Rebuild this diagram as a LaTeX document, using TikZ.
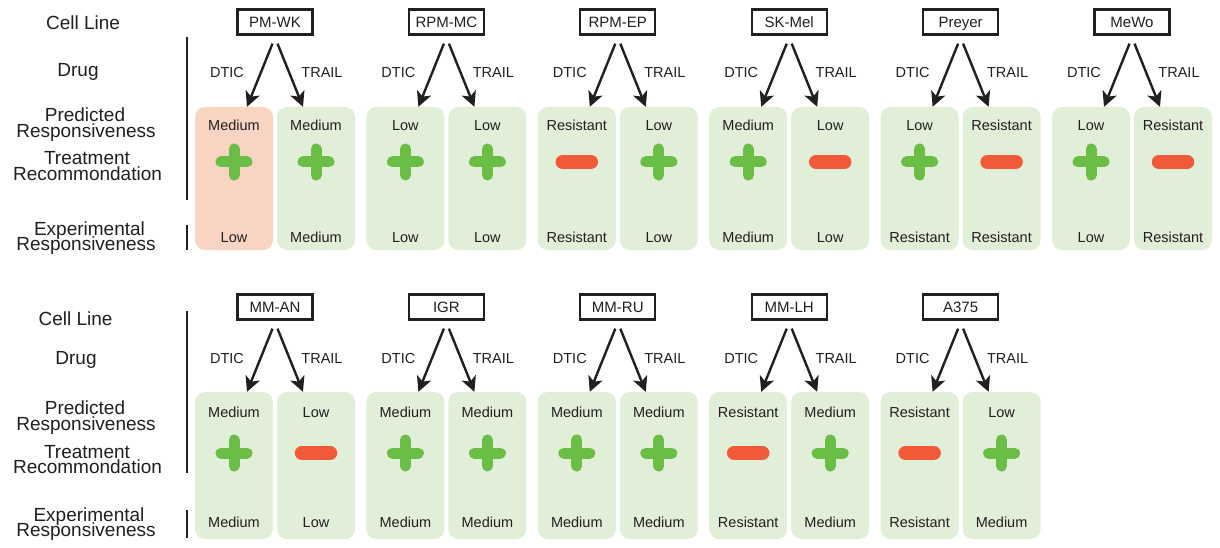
\documentclass[tikz,border=0pt]{standalone}
\usepackage{fontspec}
\setmainfont{Liberation Sans}
\usetikzlibrary{arrows.meta,calc}
\definecolor{pgreen}{HTML}{E1EED8}
\definecolor{ppink}{HTML}{F9D4C2}
\definecolor{sgreen}{HTML}{6ABD45}
\definecolor{sred}{HTML}{F15A38}
\definecolor{ink}{HTML}{231F20}
\tikzset{
  panel/.style={rounded corners=10pt, minimum width=78pt, inner sep=0pt, draw=none},
  ptext/.style={font=\fontsize{14.5}{16}\selectfont, text=ink, inner sep=0pt, text height=10.4pt, text depth=0pt},
  cellbox/.style={draw=ink, line width=2.3pt, minimum width=75pt, minimum height=25pt, inner sep=0pt,
    font=\fontsize{15}{16}\selectfont, text=ink, text height=10.8pt, text depth=0pt},
  rowlabel/.style={font=\fontsize{19}{16}\selectfont, text=ink, inner sep=0pt, text height=13.6pt, text depth=0pt},
  arr/.style={draw=ink, line width=2.4pt, -{Stealth[length=15pt,width=15pt,inset=4pt]}},
  plussign/.style={draw=sgreen, line width=11pt, line cap=round},
  minussign/.style={draw=sred, line width=14.5pt, line cap=round},
  sidebar/.style={draw=ink, line width=2.5pt},
}
\newcommand\signplus[2]{\draw[plussign] (#1-13,#2) -- (#1+13,#2) (#1,#2-13) -- (#1,#2+13);}
\newcommand\signminus[2]{\draw[minussign] (#1-14,#2) -- (#1+14,#2);}
\newcommand\panelnode[6]{%
  \node[panel, fill=#3, minimum height=\ph] (#1) at (#2+39,\pc) {};
  \node[ptext] (#1-pt) at (#2+39,\ty) {#4};
  \node[ptext] (#1-et) at (#2+39,\by) {#6};
  \csname sign#5\endcsname{#2+39}{\sy}}
\newcommand\cellgroup[3]{%
  \node[cellbox] (#1) at (#2+80,\byc) {#3};
  \node[ptext] (#1-dl) at (#2+32,\dy) {DTIC};
  \node[ptext] (#1-tl) at (#2+127,\dy) {TRAIL};}
\newcommand\grouparrows[1]{%
  \draw[arr] ($(#1.south)+(-2.5,8)$) -- ($(#1-d.north)+(13,0)$);
  \draw[arr] ($(#1.south)+(2.5,8)$) -- ($(#1-t.north)+(-13,0)$);}
\begin{document}
\begin{tikzpicture}[x=1pt,y=-1pt]
\path[use as bounding box] (0,0) rectangle (1220,548);
\fill[white] (0,0) rectangle (1220,548);

% ---------- top row labels ----------
\node[rowlabel] (l1a) at (83,23) {Cell Line};
\node[rowlabel] (l1b) at (78,70) {Drug};
\node[rowlabel] (l1c1) at (85,115) {Predicted};
\node[rowlabel] (l1c2) at (86,131) {Responsiveness};
\node[rowlabel] (l1d1) at (87,158) {Treatment};
\node[rowlabel] (l1d2) at (87.5,174) {Recommondation};
\node[rowlabel] (l1e1) at (89.5,229) {Experimental};
\node[rowlabel] (l1e2) at (86,244) {Responsiveness};
\draw[sidebar] (187,37) -- (187,200);
\draw[sidebar] (187,225) -- (187,250);

% ---------- top row groups ----------
\def\byc{22}\def\dy{72}\def\pc{178.5}\def\ph{143}\def\ty{125}\def\sy{162}\def\by{237}

\cellgroup{pmwk}{195}{PM-WK}
\panelnode{pmwk-d}{195}{ppink}{Medium}{plus}{Low}
\panelnode{pmwk-t}{195+82}{pgreen}{Medium}{plus}{Medium}
\grouparrows{pmwk}

\cellgroup{rpmmc}{366.4}{RPM-MC}
\panelnode{rpmmc-d}{366.4}{pgreen}{Low}{plus}{Low}
\panelnode{rpmmc-t}{366.4+82}{pgreen}{Low}{plus}{Low}
\grouparrows{rpmmc}

\cellgroup{rpmep}{537.8}{RPM-EP}
\panelnode{rpmep-d}{537.8}{pgreen}{Resistant}{minus}{Resistant}
\panelnode{rpmep-t}{537.8+82}{pgreen}{Low}{plus}{Low}
\grouparrows{rpmep}

\cellgroup{skmel}{709.2}{SK-Mel}
\panelnode{skmel-d}{709.2}{pgreen}{Medium}{plus}{Medium}
\panelnode{skmel-t}{709.2+82}{pgreen}{Low}{minus}{Low}
\grouparrows{skmel}

\cellgroup{preyer}{880.6}{Preyer}
\panelnode{preyer-d}{880.6}{pgreen}{Low}{plus}{Resistant}
\panelnode{preyer-t}{880.6+82}{pgreen}{Resistant}{minus}{Resistant}
\grouparrows{preyer}

\cellgroup{mewo}{1052}{MeWo}
\panelnode{mewo-d}{1052}{pgreen}{Low}{plus}{Low}
\panelnode{mewo-t}{1052+82}{pgreen}{Resistant}{minus}{Resistant}
\grouparrows{mewo}

% ---------- bottom row labels ----------
\node[rowlabel] (l2a) at (75.5,319) {Cell Line};
\node[rowlabel] (l2b) at (76,358) {Drug};
\node[rowlabel] (l2c1) at (85,408) {Predicted};
\node[rowlabel] (l2c2) at (86,424) {Responsiveness};
\node[rowlabel] (l2d1) at (87,452) {Treatment};
\node[rowlabel] (l2d2) at (87.5,467) {Recommondation};
\node[rowlabel] (l2e1) at (89,515) {Experimental};
\node[rowlabel] (l2e2) at (86,530) {Responsiveness};
\draw[sidebar] (187,311) -- (187,473);
\draw[sidebar] (187,510) -- (187,538);

% ---------- bottom row groups ----------
\def\byc{307}\def\dy{358}\def\pc{465.5}\def\ph{147}\def\ty{412}\def\sy{453}\def\by{522}

\cellgroup{mman}{195}{MM-AN}
\panelnode{mman-d}{195}{pgreen}{Medium}{plus}{Medium}
\panelnode{mman-t}{195+82}{pgreen}{Low}{minus}{Low}
\grouparrows{mman}

\cellgroup{igr}{366.4}{IGR}
\panelnode{igr-d}{366.4}{pgreen}{Medium}{plus}{Medium}
\panelnode{igr-t}{366.4+82}{pgreen}{Medium}{plus}{Medium}
\grouparrows{igr}

\cellgroup{mmru}{537.8}{MM-RU}
\panelnode{mmru-d}{537.8}{pgreen}{Medium}{plus}{Medium}
\panelnode{mmru-t}{537.8+82}{pgreen}{Medium}{plus}{Medium}
\grouparrows{mmru}

\cellgroup{mmlh}{709.2}{MM-LH}
\panelnode{mmlh-d}{709.2}{pgreen}{Resistant}{minus}{Resistant}
\panelnode{mmlh-t}{709.2+82}{pgreen}{Medium}{plus}{Medium}
\grouparrows{mmlh}

\cellgroup{aat}{880.6}{A375}
\panelnode{aat-d}{880.6}{pgreen}{Resistant}{minus}{Resistant}
\panelnode{aat-t}{880.6+82}{pgreen}{Low}{plus}{Medium}
\grouparrows{aat}
\end{tikzpicture}
\end{document}
